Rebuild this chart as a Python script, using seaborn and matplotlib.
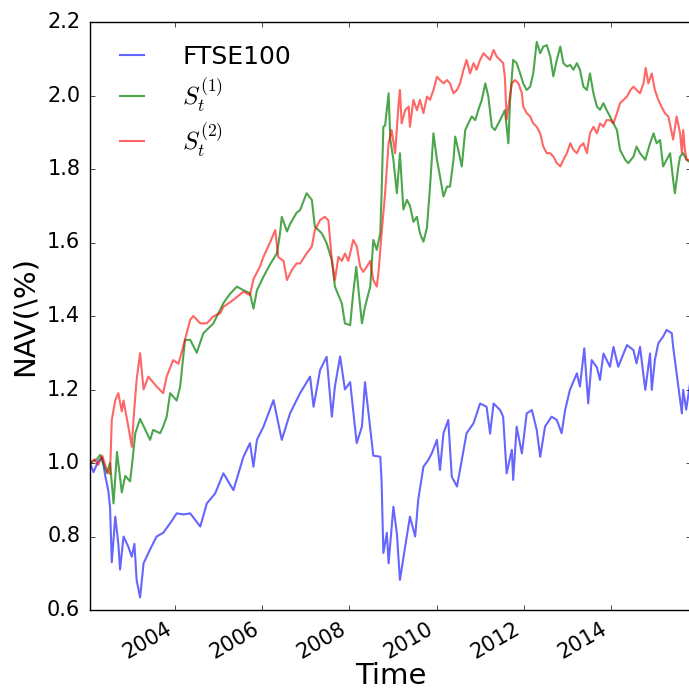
import numpy as np
import pandas as pd
import matplotlib
matplotlib.use("Agg")
import matplotlib.pyplot as plt
import matplotlib.dates as mdates
import seaborn as sns

# ---- net asset value series (time as decimal year, value as NAV) ----
ftse_t = [2002.05, 2002.13, 2002.24, 2002.33, 2002.40, 2002.47, 2002.51, 2002.55, 2002.63,
          2002.70, 2002.74, 2002.82, 2002.86, 2002.93, 2003.01, 2003.07, 2003.12, 2003.20,
          2003.28, 2003.43, 2003.58, 2003.73, 2003.89, 2004.04, 2004.20, 2004.35, 2004.58,
          2004.73, 2004.92, 2005.11, 2005.34, 2005.57, 2005.72, 2005.80, 2005.88, 2006.03,
          2006.26, 2006.45, 2006.64, 2006.87, 2007.10, 2007.18, 2007.33, 2007.48, 2007.60,
          2007.67, 2007.79, 2007.90, 2008.02, 2008.17, 2008.29, 2008.36, 2008.55, 2008.71,
          2008.74, 2008.78, 2008.86, 2008.90, 2009.01, 2009.09, 2009.16, 2009.28, 2009.39,
          2009.51, 2009.58, 2009.70, 2009.81, 2009.89, 2010.01, 2010.08, 2010.16, 2010.27,
          2010.35, 2010.47, 2010.58, 2010.69, 2010.85, 2011.00, 2011.15, 2011.23, 2011.31,
          2011.46, 2011.53, 2011.61, 2011.73, 2011.76, 2011.84, 2011.96, 2012.07, 2012.19,
          2012.30, 2012.38, 2012.49, 2012.64, 2012.76, 2012.87, 2012.95, 2013.06, 2013.22,
          2013.29, 2013.39, 2013.48, 2013.56, 2013.68, 2013.75, 2013.83, 2013.98, 2014.06,
          2014.17, 2014.37, 2014.52, 2014.59, 2014.67, 2014.79, 2014.90, 2014.94, 2015.01,
          2015.09, 2015.20, 2015.28, 2015.40, 2015.43, 2015.51, 2015.63, 2015.66, 2015.73,
          2015.84]
ftse_v = [1.000, 0.975, 1.005, 1.015, 0.965, 0.925, 0.880, 0.730, 0.854,
          0.780, 0.710, 0.800, 0.790, 0.772, 0.745, 0.780, 0.682, 0.634,
          0.727, 0.765, 0.800, 0.810, 0.836, 0.863, 0.860, 0.863, 0.827,
          0.890, 0.917, 0.972, 0.926, 1.017, 1.054, 0.990, 1.063, 1.099,
          1.171, 1.063, 1.135, 1.190, 1.235, 1.153, 1.253, 1.289, 1.126,
          1.208, 1.290, 1.200, 1.220, 1.054, 1.099, 1.220, 1.020, 1.017,
          0.950, 0.755, 0.810, 0.727, 0.881, 0.808, 0.682, 0.772, 0.854,
          0.800, 0.900, 0.990, 1.008, 1.026, 1.063, 0.981, 1.081, 1.117,
          0.963, 0.936, 1.008, 1.081, 1.108, 1.162, 1.153, 1.080, 1.162,
          1.144, 1.126, 0.972, 1.036, 0.954, 1.099, 1.026, 1.135, 1.144,
          1.090, 1.017, 1.099, 1.126, 1.117, 1.081, 1.144, 1.199, 1.244,
          1.208, 1.312, 1.162, 1.280, 1.260, 1.226, 1.298, 1.262, 1.316,
          1.262, 1.321, 1.307, 1.271, 1.316, 1.199, 1.298, 1.199, 1.280,
          1.326, 1.344, 1.362, 1.353, 1.316, 1.244, 1.135, 1.199, 1.145,
          1.235]

s1_t = [2002.05, 2002.21, 2002.28, 2002.44, 2002.51, 2002.59, 2002.67, 2002.78, 2002.86,
        2002.97, 2003.01, 2003.09, 2003.20, 2003.28, 2003.43, 2003.50, 2003.66, 2003.73,
        2003.81, 2003.89, 2004.04, 2004.12, 2004.23, 2004.35, 2004.50, 2004.65, 2004.88,
        2005.11, 2005.26, 2005.42, 2005.57, 2005.72, 2005.80, 2005.88, 2006.03, 2006.18,
        2006.34, 2006.41, 2006.45, 2006.57, 2006.64, 2006.79, 2006.87, 2007.02, 2007.14,
        2007.21, 2007.37, 2007.48, 2007.60, 2007.67, 2007.83, 2007.90, 2008.02, 2008.09,
        2008.16, 2008.22, 2008.29, 2008.36, 2008.48, 2008.55, 2008.63, 2008.71, 2008.74,
        2008.78, 2008.82, 2008.90, 2008.94, 2009.01, 2009.09, 2009.16, 2009.24, 2009.32,
        2009.39, 2009.47, 2009.55, 2009.62, 2009.70, 2009.78, 2009.85, 2009.93, 2010.01,
        2010.08, 2010.16, 2010.24, 2010.31, 2010.39, 2010.43, 2010.50, 2010.58, 2010.66,
        2010.73, 2010.81, 2010.89, 2010.96, 2011.04, 2011.12, 2011.19, 2011.27, 2011.34,
        2011.46, 2011.57, 2011.65, 2011.69, 2011.76, 2011.84, 2011.92, 2011.99, 2012.07,
        2012.15, 2012.22, 2012.30, 2012.38, 2012.45, 2012.53, 2012.61, 2012.68, 2012.76,
        2012.84, 2012.91, 2012.99, 2013.07, 2013.14, 2013.22, 2013.29, 2013.37, 2013.45,
        2013.52, 2013.60, 2013.68, 2013.75, 2013.83, 2013.90, 2013.98, 2014.06, 2014.14,
        2014.21, 2014.33, 2014.40, 2014.52, 2014.59, 2014.67, 2014.79, 2014.90, 2014.98,
        2015.05, 2015.13, 2015.20, 2015.28, 2015.36, 2015.43, 2015.47, 2015.55, 2015.59,
        2015.66, 2015.74, 2015.84]
s1_v = [1.000, 1.010, 1.022, 0.972, 1.000, 0.890, 1.030, 0.920, 0.965,
        0.950, 0.990, 1.081, 1.120, 1.100, 1.063, 1.090, 1.081, 1.099,
        1.126, 1.190, 1.170, 1.208, 1.335, 1.335, 1.300, 1.353, 1.380,
        1.435, 1.460, 1.480, 1.470, 1.462, 1.420, 1.470, 1.507, 1.540,
        1.571, 1.625, 1.670, 1.630, 1.650, 1.681, 1.688, 1.734, 1.716,
        1.643, 1.625, 1.598, 1.552, 1.480, 1.434, 1.380, 1.375, 1.462,
        1.534, 1.460, 1.380, 1.425, 1.480, 1.607, 1.580, 1.625, 1.734,
        1.915, 1.918, 2.006, 1.880, 1.825, 1.734, 1.843, 1.690, 1.716,
        1.700, 1.656, 1.670, 1.625, 1.602, 1.640, 1.750, 1.897, 1.825,
        1.780, 1.725, 1.752, 1.752, 1.825, 1.888, 1.852, 1.807, 1.906,
        1.924, 1.943, 1.933, 1.961, 1.988, 2.033, 1.997, 1.915, 1.906,
        1.933, 1.960, 1.870, 1.988, 2.097, 2.088, 2.060, 2.033, 2.015,
        2.024, 2.060, 2.146, 2.115, 2.133, 2.137, 2.106, 2.052, 2.097,
        2.133, 2.088, 2.079, 2.083, 2.070, 2.088, 2.070, 2.024, 2.015,
        2.060, 2.006, 1.970, 1.961, 1.979, 1.961, 1.943, 1.924, 1.906,
        1.852, 1.825, 1.816, 1.834, 1.861, 1.843, 1.825, 1.870, 1.897,
        1.870, 1.879, 1.807, 1.825, 1.843, 1.770, 1.734, 1.807, 1.834,
        1.843, 1.825, 1.816]

s2_t = [2002.05, 2002.15, 2002.24, 2002.33, 2002.44, 2002.51, 2002.55, 2002.63, 2002.70,
        2002.78, 2002.82, 2002.93, 2003.01, 2003.05, 2003.12, 2003.20, 2003.28, 2003.39,
        2003.58, 2003.73, 2003.81, 2003.96, 2004.08, 2004.19, 2004.27, 2004.35, 2004.42,
        2004.58, 2004.73, 2004.88, 2005.04, 2005.11, 2005.34, 2005.57, 2005.72, 2005.80,
        2005.95, 2006.03, 2006.18, 2006.30, 2006.37, 2006.49, 2006.57, 2006.68, 2006.79,
        2006.87, 2007.02, 2007.14, 2007.21, 2007.33, 2007.44, 2007.52, 2007.60, 2007.67,
        2007.75, 2007.83, 2007.90, 2007.98, 2008.09, 2008.17, 2008.25, 2008.32, 2008.40,
        2008.48, 2008.55, 2008.63, 2008.67, 2008.74, 2008.82, 2008.90, 2008.97, 2009.05,
        2009.13, 2009.16, 2009.20, 2009.28, 2009.36, 2009.39, 2009.47, 2009.55, 2009.62,
        2009.70, 2009.78, 2009.85, 2009.93, 2010.01, 2010.08, 2010.16, 2010.24, 2010.31,
        2010.39, 2010.47, 2010.54, 2010.62, 2010.69, 2010.77, 2010.85, 2010.92, 2011.00,
        2011.08, 2011.15, 2011.23, 2011.31, 2011.38, 2011.46, 2011.53, 2011.57, 2011.61,
        2011.65, 2011.73, 2011.80, 2011.88, 2011.96, 2011.99, 2012.07, 2012.15, 2012.22,
        2012.30, 2012.38, 2012.45, 2012.53, 2012.61, 2012.68, 2012.76, 2012.84, 2012.91,
        2012.99, 2013.07, 2013.14, 2013.22, 2013.29, 2013.37, 2013.45, 2013.52, 2013.60,
        2013.68, 2013.75, 2013.83, 2013.90, 2013.98, 2014.06, 2014.14, 2014.21, 2014.29,
        2014.37, 2014.45, 2014.52, 2014.59, 2014.67, 2014.75, 2014.80, 2014.86, 2014.94,
        2015.01, 2015.09, 2015.16, 2015.24, 2015.32, 2015.40, 2015.43, 2015.51, 2015.59,
        2015.63, 2015.66, 2015.70, 2015.74, 2015.84]
s2_v = [1.000, 1.010, 0.995, 1.020, 0.980, 0.970, 1.117, 1.171, 1.190,
        1.140, 1.170, 1.099, 1.044, 1.120, 1.226, 1.299, 1.200, 1.235,
        1.208, 1.190, 1.235, 1.280, 1.270, 1.317, 1.353, 1.390, 1.400,
        1.380, 1.380, 1.399, 1.408, 1.425, 1.444, 1.466, 1.457, 1.500,
        1.535, 1.561, 1.600, 1.634, 1.560, 1.550, 1.498, 1.525, 1.543,
        1.543, 1.570, 1.589, 1.634, 1.661, 1.670, 1.660, 1.552, 1.498,
        1.561, 1.550, 1.570, 1.550, 1.607, 1.590, 1.534, 1.520, 1.534,
        1.550, 1.498, 1.480, 1.520, 1.625, 1.734, 1.870, 1.906, 1.843,
        1.979, 2.015, 1.924, 1.960, 1.970, 1.915, 1.988, 1.960, 1.988,
        1.952, 1.997, 1.988, 2.015, 2.051, 2.042, 2.033, 2.042, 2.033,
        2.006, 2.015, 2.033, 2.070, 2.097, 2.060, 2.088, 2.070, 2.097,
        2.115, 2.106, 2.097, 2.124, 2.106, 2.097, 2.088, 2.050, 1.935,
        1.970, 2.033, 2.042, 2.033, 2.006, 1.970, 1.952, 1.943, 1.924,
        1.915, 1.897, 1.861, 1.843, 1.843, 1.834, 1.816, 1.807, 1.825,
        1.843, 1.870, 1.852, 1.843, 1.861, 1.870, 1.843, 1.897, 1.915,
        1.897, 1.924, 1.915, 1.933, 1.933, 1.924, 1.952, 1.979, 1.988,
        1.997, 2.015, 2.024, 2.015, 2.006, 2.033, 2.075, 2.033, 2.060,
        2.015, 1.988, 1.970, 1.952, 1.943, 1.897, 1.880, 1.943, 1.897,
        1.843, 1.906, 1.852, 1.825, 1.825]

series_labels = ["FTSE100", r"$S_t^{(1)}$", r"$S_t^{(2)}$"]
y_ticks = [0.6, 0.8, 1.0, 1.2, 1.4, 1.6, 1.8, 2.0, 2.2]
x_span = [2002.05, 2015.84]


def to_dates(years):
    """Convert decimal years to timestamps."""
    out = []
    for y in years:
        yr = int(np.floor(y))
        start = pd.Timestamp(year=yr, month=1, day=1)
        end = pd.Timestamp(year=yr + 1, month=1, day=1)
        out.append(start + (end - start) * (y - yr))
    return pd.DatetimeIndex(out)


plt.style.use("classic")
plt.rcParams.update({
    "figure.facecolor": "white",
    "savefig.facecolor": "white",
    "font.family": ["DejaVu Sans"],
    "mathtext.fontset": "cm",
    "xtick.labelsize": 15,
    "ytick.labelsize": 15,
    "xtick.major.size": 3.5,
    "ytick.major.size": 3.5,
    "xtick.minor.size": 0,
    "ytick.minor.size": 0,
    "ytick.major.pad": 7,
    "xtick.major.pad": 6,
    "axes.linewidth": 1.0,
})

fig = plt.figure(figsize=(6.89, 6.91), dpi=100)
ax = fig.add_axes([90 / 689, 81 / 691, 601 / 689, 588 / 691])

sns.lineplot(x=to_dates(ftse_t), y=ftse_v, ax=ax, color="b", alpha=0.6,
             linewidth=1.5, label=series_labels[0])
sns.lineplot(x=to_dates(s1_t), y=s1_v, ax=ax, color="g", alpha=0.7,
             linewidth=1.5, label=series_labels[1])
sns.lineplot(x=to_dates(s2_t), y=s2_v, ax=ax, color="r", alpha=0.6,
             linewidth=1.5, label=series_labels[2])

lim = to_dates(x_span)
ax.set_xlim(lim[0], lim[1])
ax.set_ylim(y_ticks[0], y_ticks[-1])
ax.set_yticks(y_ticks)
ax.yaxis.set_major_formatter(matplotlib.ticker.FormatStrFormatter("%.1f"))

ax.xaxis.set_major_locator(mdates.YearLocator(2))
ax.xaxis.set_major_formatter(mdates.DateFormatter("%Y"))
for lbl in ax.get_xticklabels():
    lbl.set_rotation(30)
    lbl.set_ha("right")

ax.set_xlabel("Time", fontsize=21, labelpad=0)
ax.set_ylabel(r"NAV(\%)", fontsize=21, labelpad=6)

ax.legend(loc="upper left", frameon=False, fontsize=18, handlelength=1.55,
          handletextpad=1.25, labelspacing=0.3, borderaxespad=0.5)

fig.savefig("out.png", dpi=100)
